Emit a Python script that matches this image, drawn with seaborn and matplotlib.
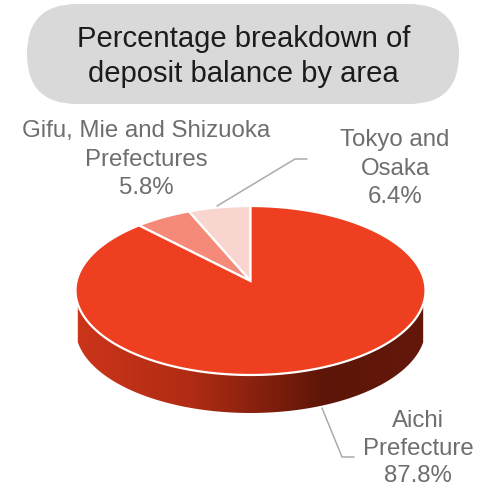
import numpy as np
import matplotlib
matplotlib.use("Agg")
import matplotlib.pyplot as plt
import seaborn as sns
from matplotlib.colors import LinearSegmentedColormap
from matplotlib.patches import FancyBboxPatch, PathPatch
from matplotlib.path import Path
from matplotlib.transforms import Transform

sns.set_theme(style="white")
plt.rcParams["font.family"] = ["Liberation Sans", "DejaVu Sans"]

# Deposit balance shares, drawn counter-clockwise from twelve o'clock
areas = ["Tokyo and\nOsaka", "Gifu, Mie and Shizuoka\nPrefectures", "Aichi\nPrefecture"]
shares = [6.4, 5.8, 87.8]
slice_colors = ["#F8D6CF", "#F58A78", "#EE4020"]

title_lines = "Percentage breakdown of\ndeposit balance by area"
text_gray = "#6E6E6E"
leader_gray = "#ABABAB"

# Tilted-disc projection: unit-circle pie coordinates to canvas pixels
APEX_X, APEX_Y = 250.5, 281.0
SCALE_X, SCALE_Y, TILT = 173.9, 83.43, 0.1124
WALL_DEPTH = 38.0


class TiltedDisc(Transform):
    input_dims = output_dims = 2
    has_inverse = False

    def transform_non_affine(self, xy):
        xy = np.asarray(xy, dtype=float)
        d = 1 + TILT * xy[:, 1]
        return np.column_stack([APEX_X + SCALE_X * xy[:, 0] / d,
                                APEX_Y - SCALE_Y * xy[:, 1] / d])

    def transform_path_non_affine(self, path):
        # Flatten the Bezier arcs first so the outline stays smooth after projection
        t = np.linspace(0, 1, 16)
        pieces = []
        for curve, _ in path.iter_bezier():
            pieces.append(np.atleast_2d(curve(t)))
        pts = np.vstack(pieces)
        pts = np.vstack([pts, pts[0]])
        return Path(self.transform_non_affine(pts), closed=True)


fig = plt.figure(figsize=(4.88, 4.86), dpi=100, facecolor="white")
ax = fig.add_axes([0, 0, 1, 1])
ax.set_xlim(0, 488)
ax.set_ylim(486, 0)
ax.axis("off")

# Heading pill
ax.add_patch(FancyBboxPatch((77, 54), 332, 0.01, boxstyle="round,pad=50,rounding_size=50",
                            fc="#D9D9D9", ec="none"))
ax.text(243.5, 56.5, title_lines, ha="center", va="center", fontsize=21.1,
        color="#1C1C1C", linespacing=1.33)

# Side wall of the disc with a horizontal shading ramp
theta = np.linspace(0, np.pi, 300)
rim = TiltedDisc().transform_non_affine(np.column_stack([np.cos(theta), -np.sin(theta)]))
rim = rim[rim[:, 1] > 304]
wall_xy = np.vstack([rim, (rim + [0, WALL_DEPTH])[::-1]])
wall_path = Path(np.vstack([wall_xy, wall_xy[0]]), closed=True)
stops = LinearSegmentedColormap.from_list(
    "wall", [(0, "#CB351A"), (0.33, "#B02C14"), (0.72, "#5C1508"), (1, "#64180B")])
ramp = ax.imshow(np.linspace(0, 1, 256)[None, :], cmap=stops, aspect="auto",
                 extent=(76, 425, 420, 290), zorder=1)
ramp.set_clip_path(PathPatch(wall_path, transform=ax.transData))

# Top face
wedges, _ = ax.pie(shares, colors=slice_colors, startangle=90, counterclock=True,
                   wedgeprops=dict(edgecolor="white", linewidth=1.6, zorder=2))
ax.set_aspect("auto")
ax.set_xlim(0, 488)
ax.set_ylim(486, 0)
ax.axis("off")
disc = TiltedDisc() + ax.transData
for w in wedges:
    w.set_transform(disc)
    w.set_clip_on(False)

# Leader lines
ax.plot([217, 295, 307], [206, 159, 159], color=leader_gray, lw=1.1, zorder=3)
ax.plot([322, 342, 354], [408, 457, 457], color=leader_gray, lw=1.1, zorder=3)

# Slice labels; the lowest one sits tighter so it stays inside the canvas
label_spots = [(395, 168.5), (146, 159.5), (418, 448.5)]
label_spacing = [1.36, 1.36, 1.3]
for name, share, (x, y), gap in zip(areas, shares, label_spots, label_spacing):
    ax.text(x, y, f"{name}\n{share:.1f}%", ha="center", va="center",
            fontsize=17.3, color=text_gray, linespacing=gap)

fig.savefig("out.png", dpi=100)
